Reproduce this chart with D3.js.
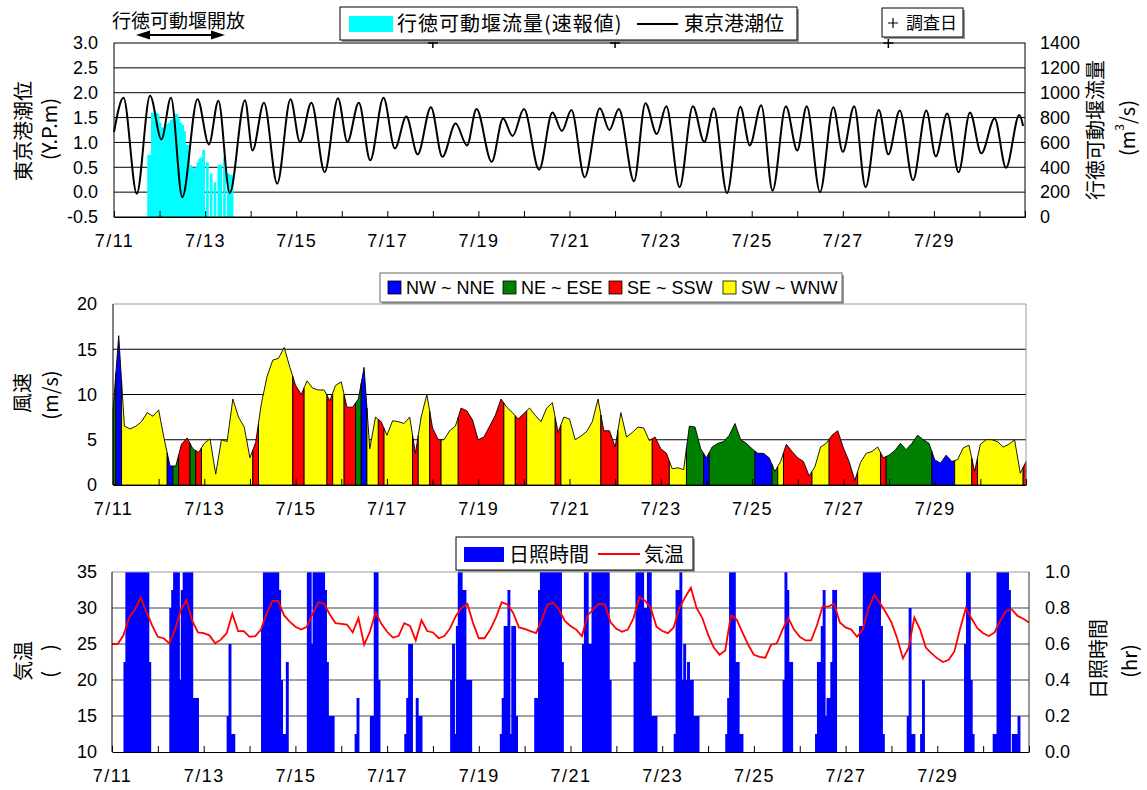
<!DOCTYPE html>
<html>
<head>
<meta charset="utf-8">
<script src="https://cdn.jsdelivr.net/npm/d3@7"></script>
<style>
body { margin: 0; background: #fff; }
text { font-family: "Liberation Sans", Arial, "Noto Sans CJK JP", sans-serif; fill: #000; }
.jp { font-family: "Noto Sans CJK JP", "Liberation Sans", sans-serif; }
</style>
</head>
<body>
<svg id="chart" width="1147" height="790"></svg>
<script>
// ---- data (hours are counted from 7/11 00:00) ----
var dateLabels = ["7/11","7/13","7/15","7/17","7/19","7/21","7/23","7/25","7/27","7/29"];
var tideTicks = [-0.5,0,0.5,1,1.5,2,2.5,3];
var flowTicks = [0,200,400,600,800,1000,1200,1400];
var windTicks = [0,5,10,15,20];
var tempTicks = [10,15,20,25,30,35];
var sunTicks = [0,0.2,0.4,0.6,0.8,1.0];

// Tokyo port tide level (Y.P.m), highs and lows
var tideHour  = [0,5,12,19,25,30,36,44,50,55,61,69,73,79,86,93,98,104,111,118,123,129,135,142,148,154,160,167,173,180,186,191,199,205,210,216,224,231,236,241,248,256,261,266,274,280,286,291,298,305,311,316,323,330,335,341,347,354,360,365,372,379,384,390,396,403,408,414,421,428,433,439,445,451,457,464,470,477,479];
var tideLevel = [1.21,1.90,-0.03,1.94,1.06,1.90,-0.10,1.87,0.96,1.84,-0.02,1.85,0.84,1.80,0.17,1.87,1.01,1.80,0.40,1.89,1.01,1.80,0.64,1.90,0.88,1.52,0.76,1.71,0.71,1.38,0.94,1.67,0.61,1.48,1.13,1.67,0.45,1.60,1.23,1.65,0.30,1.69,1.25,1.67,0.22,1.79,1.17,1.73,0.10,1.73,1.01,1.69,-0.02,1.72,0.94,1.75,0.03,1.73,0.84,1.73,0.00,1.71,0.81,1.73,0.10,1.65,0.76,1.64,0.24,1.64,0.72,1.58,0.40,1.60,0.78,1.48,0.49,1.55,1.33];

// Gyotoku weir discharge (m3/s), hourly from 7/11 18:00
var flowStartHour = 18;
var flowRate = [500,500,840,840,840,830,760,720,720,730,
                750,760,780,790,830,830,790,760,740,690,
                580,580,420,400,390,400,440,470,480,540,
                0,440,0,350,0,280,0,420,420,0,
                480,0,350,340,340];

// survey days
var surveyHour = [168,264,408];

// wind speed (m/s) and direction class, every 3 hours
var windSpeed = [
  8.2,16.5,6.5,6.2,6.5,7.0,8.0,7.6,
  8.3,5.0,2.1,2.1,4.5,5.2,4.0,3.6,
  4.6,5.1,1.2,5.0,4.8,9.5,7.5,6.4,
  3.0,4.7,9.0,12.0,13.8,14.0,15.2,13.0,
  11.0,10.0,11.5,10.7,10.5,10.5,9.3,11.0,
  11.4,8.6,8.6,9.5,13.0,4.0,7.5,7.0,
  5.5,7.1,7.0,6.8,7.5,3.5,7.5,10.0,
  6.3,5.0,5.0,6.0,6.5,8.5,8.2,7.2,
  5.0,5.3,6.5,7.7,9.5,8.6,8.0,7.3,
  7.9,8.5,7.7,7.0,8.5,9.1,5.8,7.5,
  7.3,5.0,5.4,5.9,7.0,9.5,6.0,6.0,
  4.2,8.0,5.3,5.8,6.4,6.3,4.9,5.3,
  4.0,3.5,1.8,1.9,1.7,6.5,6.4,4.0,
  3.0,4.2,4.6,4.8,5.5,6.8,5.0,4.6,
  4.0,3.5,3.5,3.0,1.5,2.6,4.5,3.7,
  3.0,2.6,1.0,2.0,4.2,4.6,5.5,6.0,
  4.1,2.6,0.5,2.5,3.5,3.7,4.2,3.0,
  3.3,3.8,4.6,3.9,4.6,5.5,5.0,4.6,
  2.8,2.4,3.3,2.6,2.8,4.1,4.4,1.5,
  4.5,5.0,5.0,4.8,4.2,4.5,5.0,1.3,
  2.6];
var windDir = [
  "E","N","W","W","W","W","W","W",
  "W","W","N","E","S","S","E","S",
  "W","W","W","W","W","W","W","W",
  "W","S","W","W","W","W","W","W",
  "S","S","W","W","W","W","S","W",
  "W","S","S","E","N","W","W","S",
  "W","W","W","W","W","S","W","W",
  "S","S","W","W","W","S","S","S",
  "S","S","S","S","S","W","W","S",
  "S","W","W","W","W","W","S","W",
  "W","W","W","W","W","W","S","S",
  "S","W","W","W","W","W","W","S",
  "S","S","W","W","W","E","E","E",
  "N","E","E","E","E","E","E","E",
  "E","N","N","N","E","W","S","S",
  "S","S","S","W","W","W","S","S",
  "S","S","S","W","W","W","W","S",
  "E","E","E","E","E","E","E","E",
  "N","N","N","N","W","W","W","S",
  "W","W","W","W","W","W","W","W",
  "S"];
var windKeys = ["N","E","S","W"];
var windNames = ["NW ~ NNE","NE ~ ESE","SE ~ SSW","SW ~ WNW"];
var windColors = ["#0000ff","#008000","#ff0000","#ffff00"];

// air temperature (deg C), every 3 hours
var tempC = [
  25.0,25.0,26.2,28.7,29.8,31.4,29.5,27.6,
  26.0,25.8,25.1,27.0,29.7,31.1,28.2,26.6,
  26.5,26.2,25.1,25.6,26.5,29.2,26.8,26.8,
  26.0,26.1,27.0,29.3,31.0,31.0,29.0,28.1,
  27.4,27.0,27.4,29.2,30.8,30.6,29.1,27.9,
  27.8,27.7,26.6,28.6,24.9,26.7,29.4,27.8,
  26.7,25.9,26.1,27.9,27.5,25.5,28.3,26.8,
  26.6,25.8,26.1,27.2,28.9,30.0,30.6,27.9,
  25.8,25.8,27.0,28.7,30.8,30.5,29.3,27.3,
  27.1,26.8,26.5,28.4,30.5,30.7,29.8,28.2,
  27.5,27.0,26.1,29.0,29.8,30.6,30.5,28.0,
  27.1,26.7,27.0,28.6,31.5,31.0,30.0,27.4,
  26.8,26.5,27.3,30.0,31.5,32.8,30.0,28.6,
  26.3,24.5,23.5,24.1,29.0,28.4,26.6,24.9,
  23.5,23.2,23.1,24.9,25.1,27.0,28.6,27.0,
  26.0,25.5,25.5,27.6,30.2,30.2,30.6,28.0,
  27.3,27.0,26.0,27.0,30.0,31.8,30.7,29.4,
  28.0,25.8,23.0,24.5,28.7,27.0,24.5,23.7,
  23.0,22.5,22.8,24.0,27.2,30.0,28.5,27.2,
  26.5,26.1,26.6,28.3,29.6,29.8,28.9,28.5,
  28.0];

// sunshine duration (hr) for clock hours 5..20 of each day 7/11..7/30
var sunClock = [5,6,7,8,9,10,11,12,13,14,15,16,17,18,19,20];
var sunshine = [
  [0,0.5,1,1,1,1,1,1,1,1,1,1,1,1,0.5,0],
  [0,0.8,0.9,1,1,1,0.4,0.9,1,1,1,1,1,0.3,0.3,0.3],
  [0,0,0,0,0,0,0,0.2,0.6,0.1,0.1,0,0,0,0,0],
  [0,0.7,1,1,1,1,1,1,1,1,0.9,0.4,0.1,0.1,0.5,0],
  [0,1,1,0.6,1,1,1,1,1,1,0.9,0.5,0.2,0.2,0.2,0],
  [0,0,0.1,0.3,0,0,0,0,0,0,0.2,0.2,1,1,0.4,0],
  [0,0,0,0,0.1,0.3,0.6,0.6,0,0,0.3,0.2,0.2,0,0,0],
  [0,0,0,0,0.4,0.6,0.1,0.7,1,1,0.9,0.9,0.4,0.4,0.4,0],
  [0,0,0,0,0,0,0.1,0.3,0.7,0.7,0.9,0.1,0.7,0.7,0.2,0],
  [0.3,0.3,0.9,1,1,1,1,1,1,1,1,1,1,1,0.5,0],
  [0,0.6,1,1,0.6,0.6,1,1,1,1,1,1,1,1,1,0.4],
  [0,0,0,0,0.5,1,1,1,1,0.8,0.8,1,1,0.2,0.2,0.2],
  [0,0.1,0.9,0.9,1,0.4,0.6,0.4,0.5,0.4,0.4,0.2,0.2,0.2,0,0],
  [0,0,0,0,0.1,0.3,1,1,1,0.5,0.5,0.1,0.1,0,0,0],
  [0,0,0,0,0,0,0,0,0,0,0.4,1,0.9,0.5,0.5,0],
  [0,0,0,0.1,0.5,0.5,0.7,0.9,0.2,0.3,0.3,0.5,0.9,0.9,0,0],
  [0,0,0.7,0.7,1,1,1,1,1,1,1,1,1,0.7,0.1,0],
  [0,0,0,0.2,0.8,0.1,0.1,0,0,0,0.1,0.4,0,0,0,0],
  [0,0,0,0,0,0,0,0,0,0.6,1,1,0.4,0.1,0,0],
  [0.1,0.1,1,1,1,1,1,1,0.9,0,0.1,0.1,0.1,0.2,0,0]
];

// ---- drawing ----
var svg = d3.select("#chart");
var fmt1 = function(v) { return d3.format(".1f")(v).replace("\u2212", "-"); };
var hoursAxis = d3.range(0, 481, 24);

function xAxis(x, y0) {
  var g = svg.append("g")
    .attr("transform", "translate(0," + y0 + ")")
    .call(d3.axisBottom(x).tickValues(hoursAxis).tickSizeInner(-6).tickSizeOuter(0).tickPadding(17)
      .tickFormat(function(h) { return (h % 48 === 0 && h < 480) ? dateLabels[h / 48] : ""; }));
  g.select(".domain").attr("stroke", "#000");
  g.selectAll(".tick line").attr("stroke", "#000");
  g.selectAll("text").attr("font-size", 18).attr("letter-spacing", 1.5).attr("fill", "#000");
}

function yAxis(scale, x0, ticks, f, side, pad) {
  var ax = side === "left" ? d3.axisLeft(scale) : d3.axisRight(scale);
  var g = svg.append("g")
    .attr("transform", "translate(" + x0 + ",0)")
    .call(ax.tickValues(ticks).tickSize(0).tickPadding(pad).tickFormat(f));
  g.select(".domain").remove();
  g.selectAll("text").attr("font-size", 18).attr("fill", "#000");
}

function grid(scale, vals, x0, x1, col) {
  svg.append("g").selectAll("line").data(vals).enter().append("line")
    .attr("x1", x0).attr("x2", x1)
    .attr("y1", function(d) { return scale(d); })
    .attr("y2", function(d) { return scale(d); })
    .attr("stroke", col).attr("stroke-width", 1);
}

function vTitle(x, y, txt) {
  return svg.append("text").attr("class", "jp")
    .attr("transform", "translate(" + x + "," + y + ") rotate(-90)")
    .attr("text-anchor", "middle").attr("dominant-baseline", "central")
    .attr("font-size", 20).text(txt);
}

// ===== top panel: tide & discharge =====
var xT = d3.scaleLinear().domain([0, 480]).range([114, 1025]);
var yT = d3.scaleLinear().domain([-0.5, 3]).range([217, 43]);
var yF = d3.scaleLinear().domain([0, 1400]).range([217, 43]);

grid(yT, [0, 0.5, 1, 1.5, 2, 2.5], 114, 1025, "#000");

var flowG = svg.append("g");
flowRate.forEach(function(v, i) {
  if (v <= 0) return;
  var h = flowStartHour + i;
  flowG.append("rect")
    .attr("x", xT(h - 0.5)).attr("width", xT(h + 0.5) - xT(h - 0.5) + 0.8)
    .attr("y", yF(v)).attr("height", yF(0) - yF(v))
    .attr("fill", "#00ffff");
});

var tideLine = d3.line().curve(d3.curveMonotoneX)
  .x(function(d, i) { return xT(tideHour[i]); })
  .y(function(d) { return yT(d); });
svg.append("path").datum(tideLevel).attr("d", tideLine)
  .attr("fill", "none").attr("stroke", "#000").attr("stroke-width", 2);

svg.append("rect").attr("x", 114).attr("y", 43).attr("width", 911).attr("height", 174)
  .attr("fill", "none").attr("stroke", "#000");
xAxis(xT, 217);
yAxis(yT, 114, tideTicks, fmt1, "left", 16);
yAxis(yF, 1025, flowTicks, d3.format("d"), "right", 15);

svg.append("g").selectAll("path").data(surveyHour).enter().append("path")
  .attr("d", function(h) { var x = xT(h), y = yT(3); return "M" + (x - 5) + "," + y + "H" + (x + 5) + "M" + x + "," + (y - 5) + "V" + (y + 5); })
  .attr("stroke", "#000").attr("stroke-width", 1.5);

vTitle(22, 131, "東京港潮位");
vTitle(48, 129, "(Y.P.m)");
vTitle(1094, 130, "行徳可動堰流量");
var mt = svg.append("text").attr("class", "jp")
  .attr("transform", "translate(1126,128) rotate(-90)")
  .attr("text-anchor", "middle").attr("dominant-baseline", "central").attr("font-size", 20);
mt.append("tspan").text("(m");
mt.append("tspan").attr("font-size", 12).attr("dy", -8).text("3");
mt.append("tspan").attr("dy", 8).text("/s)");

// open-weir annotation
svg.append("text").attr("class", "jp").attr("x", 112).attr("y", 28).attr("font-size", 19).text("行徳可動堰開放");
svg.append("line").attr("x1", 148).attr("x2", 213).attr("y1", 35).attr("y2", 35).attr("stroke", "#000").attr("stroke-width", 2);
svg.append("path").attr("d", "M136,35L150,30.5L150,39.5Z").attr("fill", "#000");
svg.append("path").attr("d", "M225,35L211,30.5L211,39.5Z").attr("fill", "#000");

// top legends
svg.append("rect").attr("x", 342).attr("y", 9).attr("width", 457).attr("height", 33).attr("fill", "#999");
svg.append("rect").attr("x", 340).attr("y", 7).attr("width", 457).attr("height", 33).attr("fill", "#fff").attr("stroke", "#000");
svg.append("rect").attr("x", 349).attr("y", 16).attr("width", 44).attr("height", 16).attr("fill", "#00ffff");
svg.append("text").attr("class", "jp").attr("x", 397).attr("y", 31).attr("font-size", 20)
  .attr("letter-spacing", 1).text("行徳可動堰流量(速報値)");
svg.append("line").attr("x1", 637).attr("x2", 678).attr("y1", 24).attr("y2", 24).attr("stroke", "#000").attr("stroke-width", 2);
svg.append("text").attr("class", "jp").attr("x", 684).attr("y", 31).attr("font-size", 20).text("東京港潮位");

svg.append("rect").attr("x", 884).attr("y", 10).attr("width", 81).attr("height", 29).attr("fill", "#999");
svg.append("rect").attr("x", 882).attr("y", 8).attr("width", 81).attr("height", 29).attr("fill", "#fff").attr("stroke", "#000");
svg.append("path").attr("d", "M888,23H898M893,18V28").attr("stroke", "#000").attr("stroke-width", 1.2);
svg.append("text").attr("class", "jp").attr("x", 906).attr("y", 29).attr("font-size", 17).text("調査日");

// ===== middle panel: wind =====
var xM = d3.scaleLinear().domain([0, 480]).range([113, 1026]);
var yM = d3.scaleLinear().domain([0, 20]).range([485, 304]);
var windHour = d3.range(0, 481, 3);

grid(yM, [5, 10, 15], 113, 1026, "#000");

// group consecutive samples of the same direction class; each run is one filled area
var windRuns = [];
windDir.forEach(function(c, i) {
  if (i === 0 || c !== windDir[i - 1]) windRuns.push({ k: c, a: i, b: i });
  else windRuns[windRuns.length - 1].b = i;
});
var windArea = d3.area()
  .x(function(d) { return xM(d.h); })
  .y0(yM(0))
  .y1(function(d) { return yM(d.v); });
svg.append("g").selectAll("path").data(windRuns).enter().append("path")
  .attr("d", function(r) {
    var pts = [];
    if (r.a > 0) pts.push({ h: (windHour[r.a - 1] + windHour[r.a]) / 2, v: (windSpeed[r.a - 1] + windSpeed[r.a]) / 2 });
    for (var i = r.a; i <= r.b; i++) pts.push({ h: windHour[i], v: windSpeed[i] });
    if (r.b < windSpeed.length - 1) pts.push({ h: (windHour[r.b] + windHour[r.b + 1]) / 2, v: (windSpeed[r.b] + windSpeed[r.b + 1]) / 2 });
    return windArea(pts);
  })
  .attr("fill", function(r) { return windColors[windKeys.indexOf(r.k)]; })
  .attr("stroke", "#000").attr("stroke-width", 0.9).attr("stroke-linejoin", "round");

svg.append("path").attr("d", "M113,304H1026V485").attr("fill", "none").attr("stroke", "#999");
svg.append("line").attr("x1", 113).attr("x2", 113).attr("y1", 304).attr("y2", 485).attr("stroke", "#000");
xAxis(xM, 485);
yAxis(yM, 113, windTicks, d3.format("d"), "left", 16);
vTitle(21, 393, "風速");
vTitle(49, 395, "(m/s)");

svg.append("rect").attr("x", 382).attr("y", 275).attr("width", 462).attr("height", 29).attr("fill", "#999");
svg.append("rect").attr("x", 380).attr("y", 273).attr("width", 462).attr("height", 29).attr("fill", "#fff").attr("stroke", "#666");
var windLegX = [388, 503, 609, 723];
windKeys.forEach(function(k, i) {
  svg.append("rect").attr("x", windLegX[i]).attr("y", 281).attr("width", 13).attr("height", 13)
    .attr("fill", windColors[i]).attr("stroke", "#000").attr("stroke-width", 0.8);
  svg.append("text").attr("x", windLegX[i] + 18).attr("y", 294).attr("font-size", 18).text(windNames[i]);
});

// ===== bottom panel: sunshine & temperature =====
var xB = d3.scaleLinear().domain([0, 480]).range([112, 1029]);
var yB = d3.scaleLinear().domain([10, 35]).range([752, 572]);
var yS = d3.scaleLinear().domain([0, 1]).range([752, 572]);

grid(yB, [15, 20, 25, 30], 112, 1029, "#444");

var sunG = svg.append("g");
sunshine.forEach(function(day, d) {
  day.forEach(function(v, i) {
    if (v <= 0) return;
    var t = d * 24 + sunClock[i];
    sunG.append("rect")
      .attr("x", xB(t)).attr("width", xB(t + 1) - xB(t) + 1)
      .attr("y", yS(v)).attr("height", yS(0) - yS(v))
      .attr("fill", "#0000ff");
  });
});

var tempHour = d3.range(0, 481, 3);
var tempLine = d3.line()
  .x(function(d, i) { return xB(tempHour[i]); })
  .y(function(d) { return yB(d); });
svg.append("path").datum(tempC).attr("d", tempLine)
  .attr("fill", "none").attr("stroke", "#ff0000").attr("stroke-width", 1.8);

svg.append("line").attr("x1", 112).attr("x2", 1029).attr("y1", 572).attr("y2", 572).attr("stroke", "#999");
svg.append("line").attr("x1", 1029).attr("x2", 1029).attr("y1", 572).attr("y2", 752).attr("stroke", "#333");
svg.append("line").attr("x1", 112).attr("x2", 112).attr("y1", 572).attr("y2", 752).attr("stroke", "#000");
xAxis(xB, 752);
yAxis(yB, 112, tempTicks, d3.format("d"), "left", 15);
yAxis(yS, 1029, sunTicks, fmt1, "right", 16);
vTitle(22, 661, "気温");
vTitle(48, 661, "(\u3000)");
vTitle(1097, 659, "日照時間");
vTitle(1128, 661, "(hr)");

svg.append("rect").attr("x", 458).attr("y", 539).attr("width", 237).attr("height", 33).attr("fill", "#999");
svg.append("rect").attr("x", 456).attr("y", 537).attr("width", 237).attr("height", 33).attr("fill", "#fff").attr("stroke", "#000");
svg.append("rect").attr("x", 464).attr("y", 547).attr("width", 40).attr("height", 15).attr("fill", "#0000ff");
svg.append("text").attr("class", "jp").attr("x", 509).attr("y", 562).attr("font-size", 20).text("日照時間");
svg.append("line").attr("x1", 598).attr("x2", 640).attr("y1", 554).attr("y2", 554).attr("stroke", "#ff0000").attr("stroke-width", 1.8);
svg.append("text").attr("class", "jp").attr("x", 644).attr("y", 562).attr("font-size", 20).text("気温");
</script>
</body>
</html>
